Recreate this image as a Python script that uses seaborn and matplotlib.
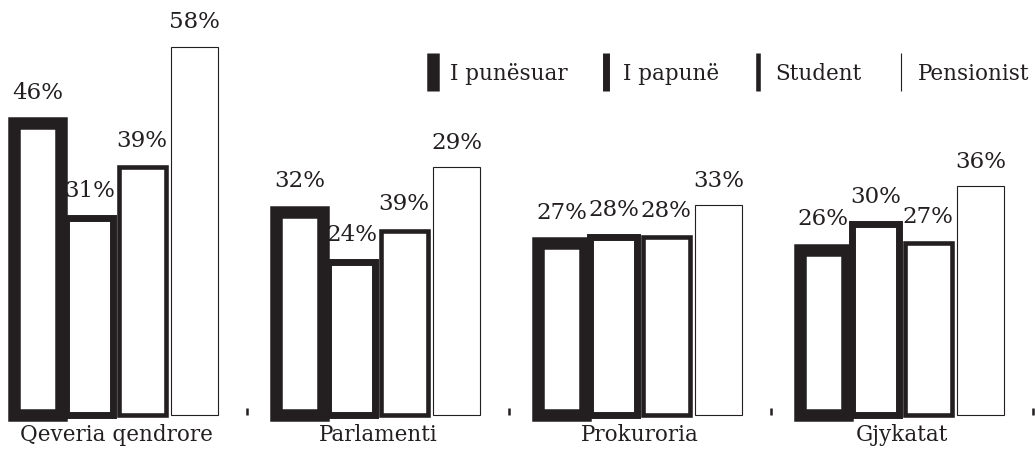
import pandas as pd
import matplotlib.pyplot as plt
from matplotlib.lines import Line2D
import seaborn as sns

# Data
institutions = ["Qeveria qendrore", "Parlamenti", "Prokuroria", "Gjykatat"]
groups = ["I punësuar", "I papunë", "Student", "Pensionist"]
punesuar = [46, 32, 27, 26]
papune = [31, 24, 28, 30]
student = [39, 29, 28, 27]
pensionist = [58, 39, 33, 36]
# printed labels (the original swaps two labels in Parlamenti)
lbl_punesuar = ["46%", "32%", "27%", "26%"]
lbl_papune = ["31%", "24%", "28%", "30%"]
lbl_student = ["39%", "39%", "28%", "27%"]
lbl_pensionist = ["58%", "29%", "33%", "36%"]

values = [punesuar, papune, student, pensionist]
labels = [lbl_punesuar, lbl_papune, lbl_student, lbl_pensionist]
line_widths = [9, 5, 3.3, 0.8]
ink = '#231f20'

df = pd.DataFrame({
    'institution': institutions * 4,
    'group': [g for g in groups for _ in institutions],
    'value': [v for vals in values for v in vals],
})

sns.set_style('white')
plt.rcParams['font.family'] = ['DejaVu Serif', 'DejaVu Sans']

fig = plt.figure(figsize=(10.35, 4.54), dpi=100)
ax = fig.add_axes([0, 39.5 / 454, 1, 414.5 / 454])

sns.barplot(data=df, x='institution', y='value', hue='group', order=institutions,
            hue_order=groups, palette=dict(zip(groups, ['white'] * 4)),
            edgecolor=ink, width=0.8, gap=0.1, legend=False, ax=ax)

for container, lw, lbls in zip(ax.containers, line_widths, labels):
    for patch, txt in zip(container, lbls):
        patch.set_linewidth(lw)
        patch.set_clip_on(False)
        cx = patch.get_x() + patch.get_width() / 2
        ax.annotate(txt, (cx, patch.get_height()), xytext=(0, lw / 2 + 13),
                    textcoords='offset points', ha='center', va='baseline',
                    fontsize=16.5, color=ink)

ax.set_ylim(0, 414.5 / 6.336)
ax.set_xlim(-116 / 262, (1035 - 116) / 262)
ax.set_xlabel('')
ax.set_ylabel('')
ax.set_yticks([])
ax.set_xticks([0.5, 1.5, 2.5, 3.5], minor=True)
ax.tick_params(axis='x', which='major', bottom=False, length=0, pad=7,
               labelsize=15.5, labelcolor=ink)
ax.tick_params(axis='x', which='minor', bottom=True, direction='in', length=5,
               width=1.8, color=ink)
for s in ax.spines.values():
    s.set_visible(False)

handles = [Line2D([], [], marker='|', linestyle='none', markersize=27,
                  markeredgewidth=lw, color=ink) for lw in line_widths]
fig.legend(handles, groups, loc='center right', bbox_to_anchor=(1040 / 1035, (454 - 74) / 454),
           ncol=4, frameon=False, fontsize=15.5, handlelength=0.6, handletextpad=0.5,
           columnspacing=1.5, borderpad=0, labelcolor=ink)

plt.savefig('out.png', dpi=100)
